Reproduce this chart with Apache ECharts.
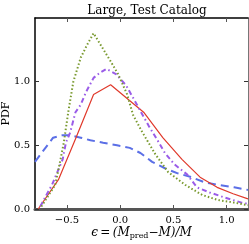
<!DOCTYPE html>
<html><head><meta charset="utf-8">
<script src="https://cdn.jsdelivr.net/npm/echarts@6/dist/echarts.min.js"></script>
<style>html,body{margin:0;padding:0;background:#fff}#c{width:249px;height:244px}</style>
</head><body><div id="c"></div>
<script>
const titleText = "Large, Test Catalog";
const yLabel = "PDF";
const xTicks = [-0.5, 0.0, 0.5, 1.0];
const yTicks = [0.0, 0.5, 1.0];

const redX = [-0.77, -0.58, -0.42, -0.25, -0.09, 0.22, 0.40, 0.58, 0.75, 0.91, 1.06, 1.2];
const redY = [0.0, 0.23, 0.55, 0.90, 0.976, 0.76, 0.56, 0.39, 0.25, 0.17, 0.12, 0.08];

const greenX = [-0.74, -0.61, -0.56, -0.53, -0.486, -0.44, -0.37, -0.31, -0.25, -0.17, -0.09, -0.02, 0.065, 0.12, 0.196, 0.33, 0.45, 0.61, 0.77, 0.92, 1.07, 1.2];
const greenY = [0.02, 0.19, 0.39, 0.52, 0.77, 1.0, 1.19, 1.29, 1.38, 1.27, 1.16, 1.06, 0.90, 0.74, 0.62, 0.43, 0.29, 0.19, 0.11, 0.07, 0.05, 0.03];

const purpleX = [-0.75, -0.68, -0.64, -0.54, -0.51, -0.47, -0.42, -0.37, -0.32, -0.25, -0.19, -0.13, -0.04, 0.056, 0.13, 0.196, 0.27, 0.35, 0.42, 0.51, 0.63, 0.72, 0.84, 0.98, 1.14, 1.2];
const purpleY = [0.02, 0.13, 0.19, 0.39, 0.52, 0.60, 0.76, 0.82, 0.92, 1.03, 1.07, 1.10, 1.06, 0.97, 0.86, 0.76, 0.65, 0.54, 0.44, 0.35, 0.27, 0.17, 0.13, 0.09, 0.05, 0.04];

const blueX = [-0.8, -0.72, -0.63, -0.54, -0.47, -0.37, -0.28, -0.16, -0.03, 0.09, 0.19, 0.30, 0.42, 0.54, 0.67, 0.79, 0.92, 1.07, 1.2];
const blueY = [0.37, 0.46, 0.56, 0.58, 0.58, 0.56, 0.54, 0.52, 0.50, 0.48, 0.44, 0.37, 0.32, 0.28, 0.25, 0.21, 0.19, 0.17, 0.15];

const zip = (a, b) => a.map((v, i) => [v, b[i]]);
const F = "'DejaVu Serif', serif";
const fmt = v => (v < 0 ? "\u2212" : "") + Math.abs(v).toFixed(1);

const chart = echarts.init(document.getElementById('c'), null, {renderer: 'canvas'});
chart.setOption({
  animation: false,
  title: {text: titleText, left: 142, top: 0, textAlign: 'center',
    textStyle: {fontFamily: F, fontSize: 12, fontWeight: 'normal', color: '#000'}},
  grid: {left: 35, right: 1, top: 18, bottom: 35, containLabel: false, outerBoundsMode: 'none'},
  xAxis: [{
    type: 'value', min: -0.8, max: 1.2, position: 'bottom',
    axisLine: {show: true, onZero: false, lineStyle: {color: '#555', width: 3}},
    axisTick: {show: true, inside: true, length: 4, customValues: xTicks, lineStyle: {color: '#555'}},
    axisLabel: {show: true, customValues: xTicks, formatter: fmt, fontFamily: F, fontSize: 10, color: '#000', margin: 6},
    splitLine: {show: false},
    name: '{a|\u03f5\u2009=\u2009(M}{s|pred}{a|\u2212M)/M}',
    nameLocation: 'middle', nameGap: 16, nameMoveOverlap: false,
    nameTextStyle: {rich: {a: {fontFamily: F, fontSize: 12, fontStyle: 'italic', color: '#000'},
      s: {fontFamily: F, fontSize: 8, color: '#000', verticalAlign: 'bottom', padding: [7, 0, 0, 0]}}}
  }, {
    type: 'value', min: -0.8, max: 1.2, position: 'top',
    axisLine: {show: true, onZero: false, lineStyle: {color: '#000', width: 1.5}},
    axisTick: {show: true, inside: true, length: 4, customValues: xTicks, lineStyle: {color: '#555'}},
    axisLabel: {show: false}, splitLine: {show: false}
  }],
  yAxis: [{
    type: 'value', min: 0, max: 1.5, position: 'left',
    axisLine: {show: true, onZero: false, lineStyle: {color: '#000', width: 1.5}},
    axisTick: {show: true, inside: true, length: 4, customValues: yTicks, lineStyle: {color: '#333'}},
    axisLabel: {show: true, customValues: yTicks, formatter: v => v.toFixed(1), fontFamily: F, fontSize: 10, color: '#000', margin: 5},
    splitLine: {show: false},
    name: yLabel, nameLocation: 'middle', nameGap: 29, nameRotate: 90, nameMoveOverlap: false,
    nameTextStyle: {fontFamily: F, fontSize: 11, color: '#000', verticalAlign: 'middle'}
  }, {
    type: 'value', min: 0, max: 1.5, position: 'right',
    axisLine: {show: true, onZero: false, lineStyle: {color: '#777', width: 1}},
    axisTick: {show: true, inside: true, length: 4, customValues: yTicks, lineStyle: {color: '#333'}},
    axisLabel: {show: false}, splitLine: {show: false}
  }],
  series: [
    {type: 'line', data: zip(blueX, blueY), showSymbol: false, clip: true,
      lineStyle: {color: '#5b6fe6', width: 2, type: [8, 5]}},
    {type: 'line', data: zip(redX, redY), showSymbol: false, clip: true,
      lineStyle: {color: '#e0392b', width: 1.2}},
    {type: 'line', data: zip(purpleX, purpleY), showSymbol: false, clip: true,
      lineStyle: {color: '#9a5ce8', width: 2, type: [5, 3, 1.5, 3]}},
    {type: 'line', data: zip(greenX, greenY), showSymbol: false, clip: true,
      lineStyle: {color: '#7a9a30', width: 2, type: [1.5, 2.2]}}
  ]
});
</script></body></html>
